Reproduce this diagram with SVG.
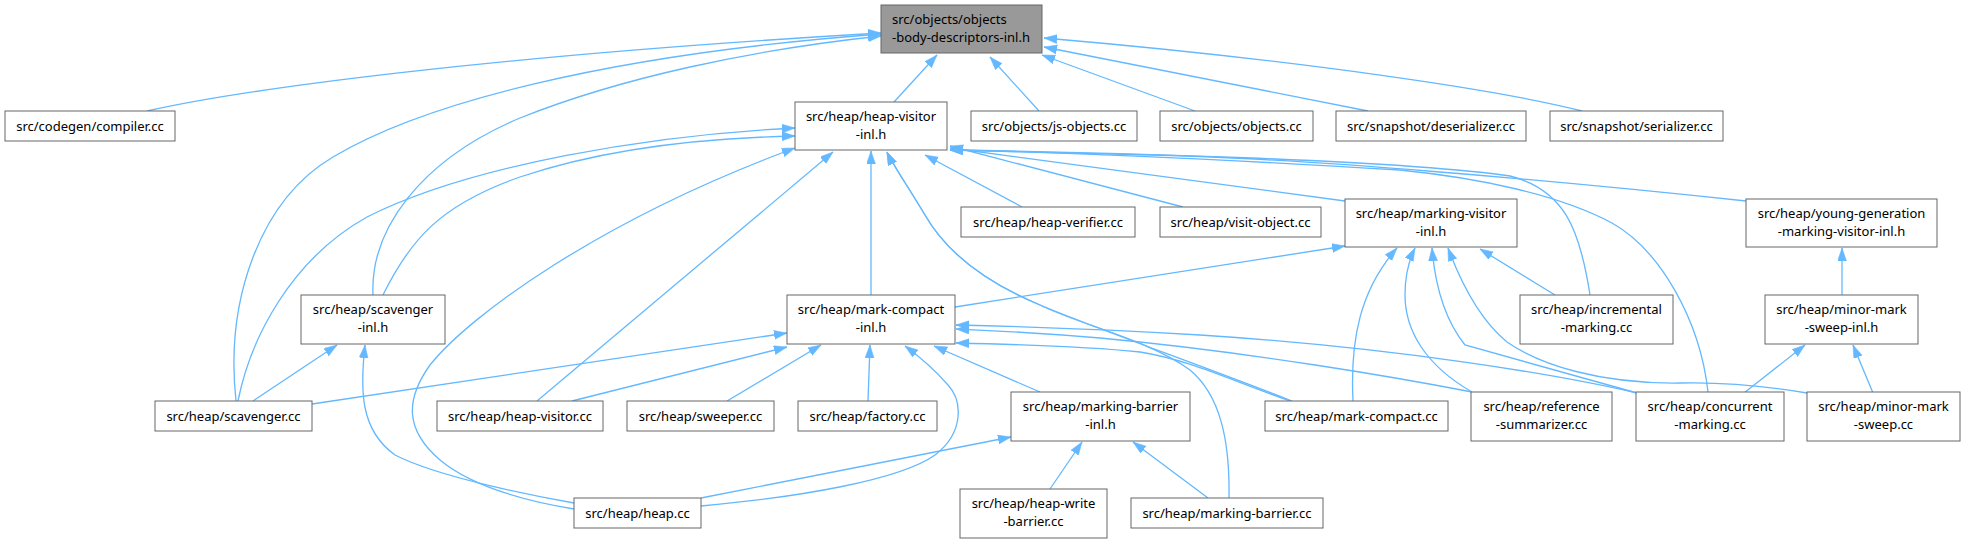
<svg xmlns="http://www.w3.org/2000/svg" width="1965" height="543" viewBox="0 0 1965 543">
<defs>
<marker id="ah" markerUnits="userSpaceOnUse" markerWidth="14" markerHeight="10" refX="13" refY="4.5" orient="auto">
<path d="M0,0 L13,4.5 L0,9 z" fill="#63b8ff" stroke="#63b8ff" stroke-width="0.5"/>
</marker>
<style>
.n rect{fill:#fff;stroke:#666;stroke-width:1}
.n.root rect{fill:#999}
.n text{font-family:"Noto Sans","DejaVu Sans",sans-serif;font-size:13px;fill:#000;text-anchor:middle}
.n.root text{text-anchor:start}
#edges path{fill:none;stroke:#63b8ff;stroke-width:1.3;marker-end:url(#ah)}
</style>
</defs>
<rect width="1965" height="543" fill="#fff"/>
<g id="edges">
<path d="M147,111 C250,88 500,55 881,33"/>
<path d="M236,401 C225,300 260,200 333,157 C420,105 600,55 881,34"/>
<path d="M373,295 C370,230 420,160 520,118 C620,78 750,50 881,36"/>
<path d="M894,102 L937,55"/>
<path d="M1039,111 L990,57"/>
<path d="M1195,111 L1042,55"/>
<path d="M1368,111 L1044,47"/>
<path d="M1582,111 C1500,90 1300,60 1044,38"/>
<path d="M238,401 C250,340 290,260 367,217 C470,165 650,135 795,128"/>
<path d="M383,295 C410,240 440,205 520,177 C600,150 700,138 795,136"/>
<path d="M574,509 C520,500 470,485 440,460 C405,430 405,400 430,365 C470,315 600,220 795,148"/>
<path d="M537,401 L833,152"/>
<path d="M871,295 L871,151"/>
<path d="M1292,401 C1200,365 1100,330 1040,305 C980,280 945,250 925,215 C907,185 893,165 887,152"/>
<path d="M1229,498 C1230,440 1220,395 1190,370 C1150,340 1080,325 1040,305 C980,280 945,250 925,215 C907,185 893,165 887,152"/>
<path d="M1022,207 L925,155"/>
<path d="M1183,207 L950,146"/>
<path d="M1345,201 L950,148"/>
<path d="M1746,201 C1550,180 1300,158 1150,155 C1060,153 990,151 950,150"/>
<path d="M1590,295 C1580,230 1565,190 1510,176 C1400,160 1100,152 950,150"/>
<path d="M1708,392 C1700,320 1660,250 1612,223 C1560,195 1480,178 1400,170 C1200,158 1050,152 950,150"/>
<path d="M312,404 L787,333"/>
<path d="M572,401 L787,347"/>
<path d="M727,401 L821,345"/>
<path d="M868,401 L870,345"/>
<path d="M701,506 C800,497 900,480 935,455 C965,432 962,400 948,385 C935,370 920,357 905,346"/>
<path d="M1040,392 L934,346"/>
<path d="M1290,401 C1230,380 1190,360 1140,352 C1080,346 1000,344 956,343"/>
<path d="M1472,392 C1400,378 1250,352 1100,338 C1030,332 980,330 956,329"/>
<path d="M1637,393 C1560,375 1400,348 1200,335 C1100,329 1000,326 956,325"/>
<path d="M955,307 L1345,246"/>
<path d="M1353,401 C1350,340 1360,290 1397,248"/>
<path d="M1472,392 C1425,365 1405,330 1405,295 C1405,275 1408,262 1415,248"/>
<path d="M1637,393 L1465,345 C1445,320 1435,285 1432,248"/>
<path d="M1807,393 C1760,385 1720,382 1680,383 C1600,384 1540,365 1507,342 C1480,320 1460,280 1448,248"/>
<path d="M1555,295 L1480,249"/>
<path d="M1842,295 L1842,248"/>
<path d="M1744,393 L1805,345"/>
<path d="M1873,393 L1853,345"/>
<path d="M253,401 L337,345"/>
<path d="M574,503 C540,497 440,478 395,455 C360,430 360,390 365,345"/>
<path d="M701,498 L1011,437"/>
<path d="M1050,489 L1082,442"/>
<path d="M1208,498 L1133,442"/>
</g>
<g id="root" class="n root"><rect x="881" y="5" width="161" height="48"/><text x="892" y="24">src/objects/objects</text><text x="892" y="42">-body-descriptors-inl.h</text></g>
<g id="compiler" class="n"><rect x="5" y="111" width="170" height="30"/><text x="90" y="130.5">src/codegen/compiler.cc</text></g>
<g id="heap-visitor-inl" class="n"><rect x="795" y="102" width="152" height="48"/><text x="871" y="120.5">src/heap/heap-visitor</text><text x="871" y="138.5">-inl.h</text></g>
<g id="js-objects" class="n"><rect x="971" y="111" width="166" height="30"/><text x="1054" y="130.5">src/objects/js-objects.cc</text></g>
<g id="objects" class="n"><rect x="1160" y="111" width="153" height="30"/><text x="1236.5" y="130.5">src/objects/objects.cc</text></g>
<g id="deserializer" class="n"><rect x="1336" y="111" width="190" height="30"/><text x="1431" y="130.5">src/snapshot/deserializer.cc</text></g>
<g id="serializer" class="n"><rect x="1550" y="111" width="173" height="30"/><text x="1636.5" y="130.5">src/snapshot/serializer.cc</text></g>
<g id="heap-verifier" class="n"><rect x="961" y="207" width="174" height="30"/><text x="1048" y="226.5">src/heap/heap-verifier.cc</text></g>
<g id="visit-object" class="n"><rect x="1160" y="207" width="161" height="30"/><text x="1240.5" y="226.5">src/heap/visit-object.cc</text></g>
<g id="marking-visitor-inl" class="n"><rect x="1345" y="199" width="172" height="48"/><text x="1431" y="217.5">src/heap/marking-visitor</text><text x="1431" y="235.5">-inl.h</text></g>
<g id="young-generation" class="n"><rect x="1746" y="199" width="191" height="48"/><text x="1841.5" y="217.5">src/heap/young-generation</text><text x="1841.5" y="235.5">-marking-visitor-inl.h</text></g>
<g id="scavenger-inl" class="n"><rect x="301" y="295" width="144" height="49"/><text x="373" y="313.5">src/heap/scavenger</text><text x="373" y="332">-inl.h</text></g>
<g id="mark-compact-inl" class="n"><rect x="787" y="295" width="168" height="49"/><text x="871" y="313.5">src/heap/mark-compact</text><text x="871" y="332">-inl.h</text></g>
<g id="incremental-marking" class="n"><rect x="1520" y="295" width="153" height="49"/><text x="1596.5" y="313.5">src/heap/incremental</text><text x="1596.5" y="332">-marking.cc</text></g>
<g id="minor-mark-sweep-inl" class="n"><rect x="1765" y="295" width="153" height="49"/><text x="1841.5" y="313.5">src/heap/minor-mark</text><text x="1841.5" y="332">-sweep-inl.h</text></g>
<g id="scavenger" class="n"><rect x="155" y="401" width="157" height="30"/><text x="233.5" y="420.5">src/heap/scavenger.cc</text></g>
<g id="heap-visitor" class="n"><rect x="437" y="401" width="166" height="30"/><text x="520" y="420.5">src/heap/heap-visitor.cc</text></g>
<g id="sweeper" class="n"><rect x="627" y="401" width="147" height="30"/><text x="700.5" y="420.5">src/heap/sweeper.cc</text></g>
<g id="factory" class="n"><rect x="798" y="401" width="139" height="30"/><text x="867.5" y="420.5">src/heap/factory.cc</text></g>
<g id="marking-barrier-inl" class="n"><rect x="1011" y="392" width="179" height="49"/><text x="1100.5" y="410.5">src/heap/marking-barrier</text><text x="1100.5" y="429">-inl.h</text></g>
<g id="mark-compact" class="n"><rect x="1265" y="401" width="183" height="30"/><text x="1356.5" y="420.5">src/heap/mark-compact.cc</text></g>
<g id="reference-summarizer" class="n"><rect x="1471" y="392" width="141" height="49"/><text x="1541.5" y="410.5">src/heap/reference</text><text x="1541.5" y="429">-summarizer.cc</text></g>
<g id="concurrent-marking" class="n"><rect x="1636" y="392" width="148" height="49"/><text x="1710" y="410.5">src/heap/concurrent</text><text x="1710" y="429">-marking.cc</text></g>
<g id="minor-mark-sweep" class="n"><rect x="1807" y="392" width="153" height="49"/><text x="1883.5" y="410.5">src/heap/minor-mark</text><text x="1883.5" y="429">-sweep.cc</text></g>
<g id="heap" class="n"><rect x="574" y="498" width="127" height="30"/><text x="637.5" y="517.5">src/heap/heap.cc</text></g>
<g id="heap-write-barrier" class="n"><rect x="960" y="489" width="147" height="49"/><text x="1033.5" y="507.5">src/heap/heap-write</text><text x="1033.5" y="526">-barrier.cc</text></g>
<g id="marking-barrier" class="n"><rect x="1131" y="498" width="192" height="30"/><text x="1227" y="517.5">src/heap/marking-barrier.cc</text></g>
</svg>
